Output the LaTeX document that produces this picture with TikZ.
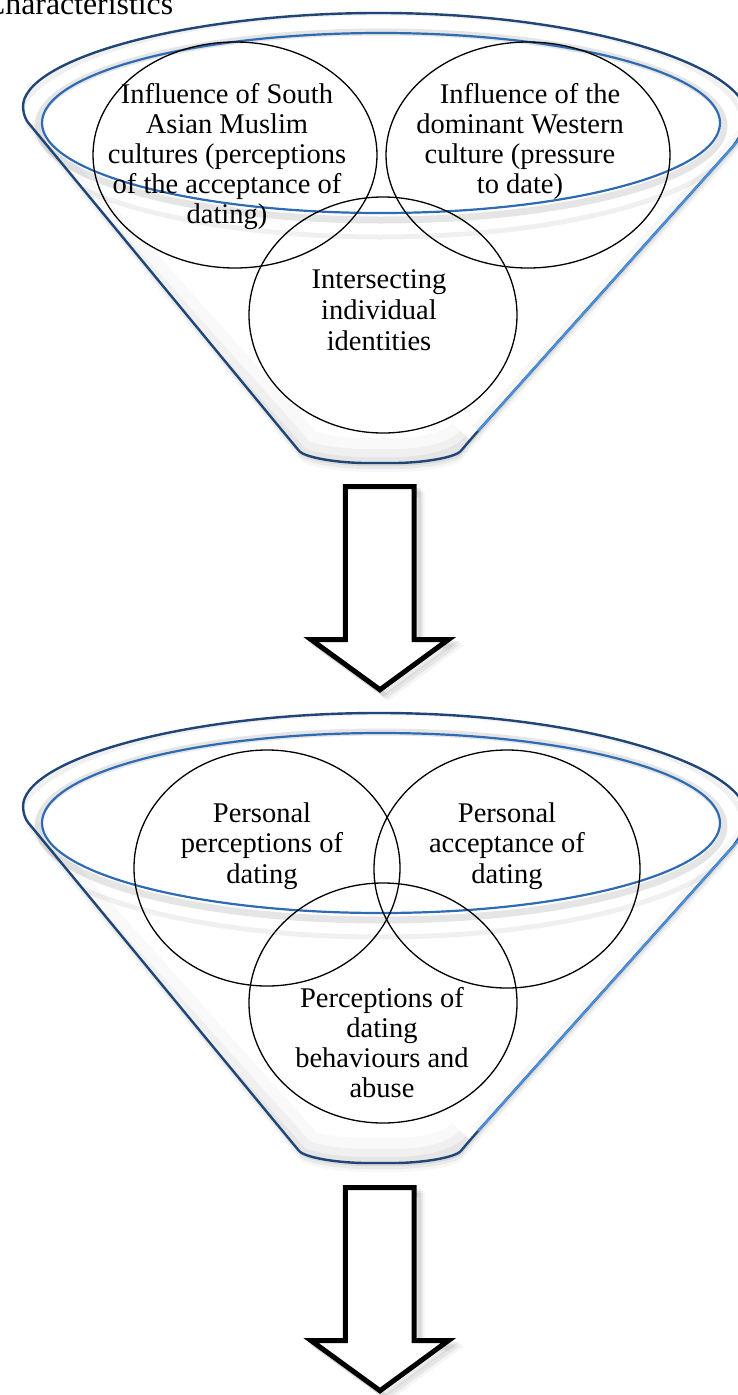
\documentclass[tikz,border=0pt]{standalone}
\usepackage{fontspec}
\setmainfont{Liberation Serif}
\usetikzlibrary{shapes.geometric}
\definecolor{rimdark}{HTML}{1F4677}
\definecolor{rimmid}{HTML}{2F6BB3}
\definecolor{rimlight}{HTML}{4A8FDB}
\def\funnelpath{(740.5,138) arc[start angle=6.67, end angle=-173.33, x radius=363, y radius=112] -- (290,440) .. controls (305,458) and (340,463) .. (380,463) .. controls (420,463) and (455,458) .. (470,440) -- cycle}
\def\funnelleft{(19.5,138) -- (290,440) .. controls (305,458) and (340,463) .. (380,463) .. controls (420,463) and (455,458) .. (470,440)}
\def\arrowpath{(345.3,486.5) -- (414,486.5) -- (414,639.5) -- (448.5,639.5) -- (380,689.7) -- (311,639.5) -- (345.3,639.5) -- cycle}
\newcommand\drawfunnel[1]{%
\begin{scope}[shift={(0,#1)}]
  \foreach \d/\o in {9/0.03,6/0.05,3/0.07}{\fill[black, opacity=\o, funnelshape, shift={(1,\d)}] \funnelpath;}
  \fill[white, funnelshape] \funnelpath;
  \begin{scope}
    \clip[funnelshape] \funnelpath;
    \draw[black, opacity=0.025, line width=50pt, funnelshape] \funnelleft;
    \draw[black, opacity=0.035, line width=28pt, funnelshape] \funnelleft;
    \draw[black, opacity=0.045, line width=12pt, funnelshape] \funnelleft;
    \draw[black, opacity=0.03, line width=14pt] (478,431) -- (745,133);
    \draw[black, opacity=0.06, line width=5pt] (380,125) ellipse[x radius=363, y radius=112];
  \end{scope}
  \fill[white] (381,123) ellipse[x radius=339, y radius=90];
  \draw[black, opacity=0.10, line width=7pt] (381,126) ellipse[x radius=343, y radius=94];
  \draw[innl] (381,123) ellipse[x radius=339, y radius=90];
  \draw[outl, funnelshape] \funnelpath;
  \draw[draw=rimlight, line width=2.2pt] (478,431) -- (745,133);
\end{scope}}
\newcommand\drawarrow[1]{%
\begin{scope}[shift={(0,#1)}]
  \foreach \d/\o in {8/0.04,6/0.06,4/0.08}{\draw[black, opacity=\o, line width=5pt, shift={(\d,\d)}] \arrowpath;}
  \draw[blockarrow] \arrowpath;
\end{scope}}
\begin{document}
\begin{tikzpicture}[x=1pt,y=-1pt,
  funnelshape/.style={rounded corners=14pt},
  outl/.style={draw=rimdark, line width=2.4pt, line join=round},
  innl/.style={draw=rimmid, line width=2.2pt},
  vennc/.style={ellipse, draw=black, line width=1.3pt, inner sep=0pt},
  lbl/.style={align=center, inner sep=0pt, anchor=north},
  blockarrow/.style={draw=black, fill=white, line width=5pt, line join=miter, miter limit=10}]
\useasboundingbox (0,0) rectangle (738,1395);
\clip (0,0) rectangle (738,1395);
\fill[white] (0,0) rectangle (738,1395);

\node[anchor=base west, inner sep=0pt, font=\fontsize{31.8}{36}\selectfont] (cap) at (-16,14) {Characteristics};

\drawfunnel{0}
\drawfunnel{700}
\drawarrow{0}
\drawarrow{701}

% top funnel
\node[vennc, minimum width=284pt, minimum height=226pt] (c1) at (235,155) {};
\node[vennc, minimum width=284pt, minimum height=226pt] (c2) at (528,155) {};
\node[vennc, minimum width=268pt, minimum height=236pt] (c3) at (383,315) {};
\node[lbl, font=\fontsize{28.5}{30}\selectfont] (t1) at (227,83) {\rule{0pt}{20pt}Influence of South\\Asian Muslim\\cultures (perceptions\\of the acceptance of\\dating)};
\node[lbl, font=\fontsize{28.5}{30}\selectfont] (t2) at (520,83) {\rule{0pt}{20pt}\hspace*{20pt}Influence of the\\dominant Western\\culture (pressure\\to date)};
\node[lbl, font=\fontsize{28.5}{31}\selectfont] (t3) at (379,268) {\rule{0pt}{20pt}Intersecting\\individual\\identities};

% bottom funnel
\node[vennc, minimum width=266pt, minimum height=236pt] (cA) at (267,868) {};
\node[vennc, minimum width=266pt, minimum height=238pt] (cB) at (507,869) {};
\node[vennc, minimum width=268pt, minimum height=240pt] (cC) at (383,1003) {};
\node[lbl, font=\fontsize{28.5}{30.5}\selectfont] (t4) at (262,802) {\rule{0pt}{20pt}Personal\\perceptions of\\dating};
\node[lbl, font=\fontsize{28.5}{30.5}\selectfont] (t5) at (507,802) {\rule{0pt}{20pt}Personal\\acceptance of\\dating};
\node[lbl, font=\fontsize{28.5}{30}\selectfont] (t6) at (382,987) {\rule{0pt}{20pt}Perceptions of\\dating\\behaviours and\\abuse};
\end{tikzpicture}
\end{document}
